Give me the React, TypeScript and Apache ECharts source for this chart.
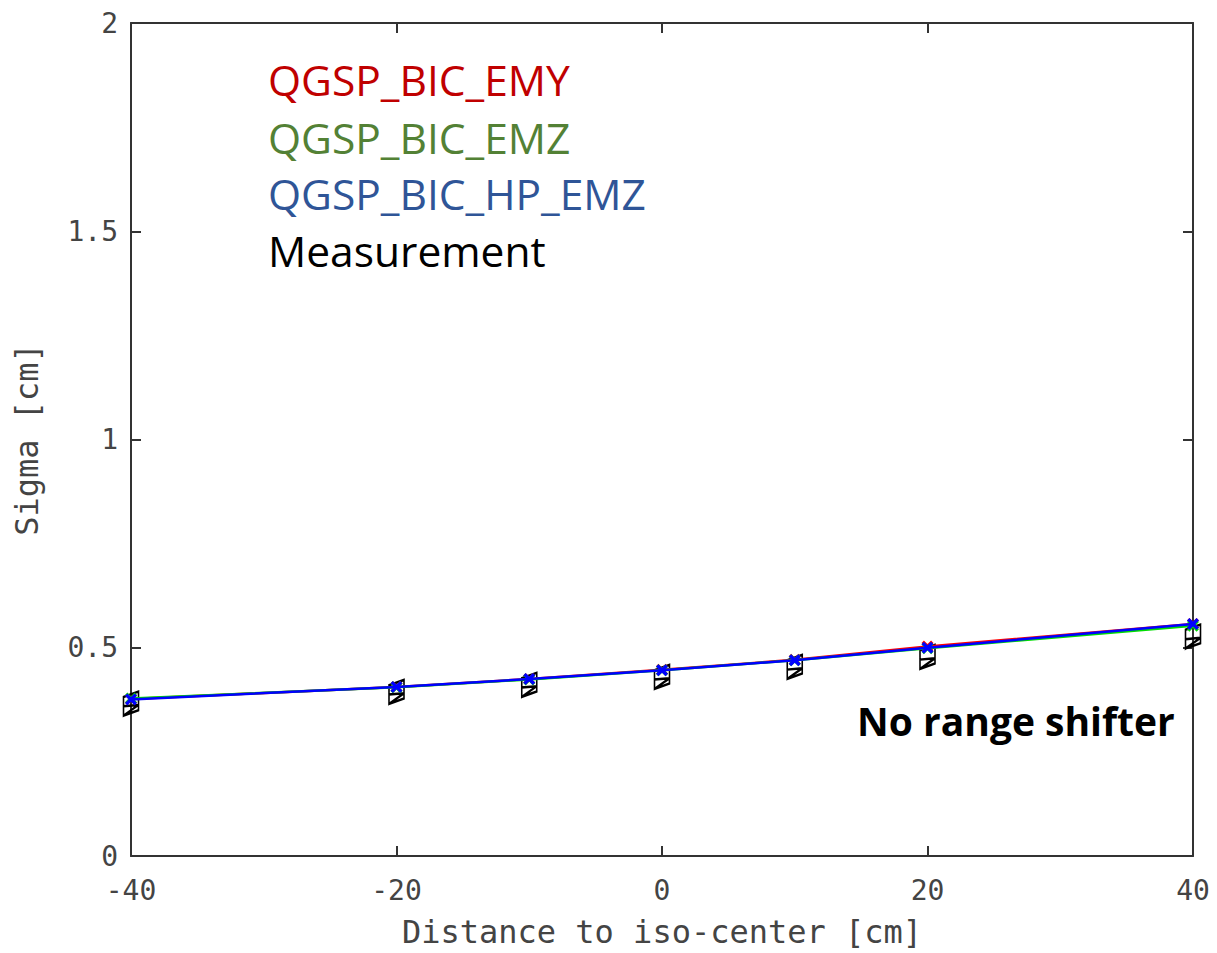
import React, { useEffect, useRef } from "react";
import * as echarts from "echarts";

const distances = [-40, -20, -10, 0, 10, 20, 40];
const sigmaEMY = [0.377, 0.406, 0.425, 0.447, 0.471, 0.503, 0.557];
const sigmaEMZ = [0.378, 0.405, 0.424, 0.446, 0.47, 0.499, 0.553];
const sigmaHPEMZ = [0.376, 0.406, 0.425, 0.446, 0.47, 0.5, 0.557];
const sigmaMeasured = [0.366, 0.394, 0.411, 0.43, 0.454, 0.478, 0.527];

const seriesNames = ["QGSP_BIC_EMY", "QGSP_BIC_EMZ", "QGSP_BIC_HP_EMZ", "Measurement"];
const labelColors = ["#c00000", "#538135", "#2f5597", "#000000"];
const lineColors = ["#ff0000", "#00dd00", "#0000ff"];

const X_SYMBOL = "path://M0,2L2,0L5,3L8,0L10,2L7,5L10,8L8,10L5,7L2,10L0,8L3,5Z";
const MEAS_SYMBOL = "path://M0,4L10,0L10,14L0,18Z M0,18L10,10L0,11Z";

const pairs = (ys: number[]) => distances.map((x, i) => [x, ys[i]]);

export default function App() {
  const ref = useRef<HTMLDivElement>(null);
  useEffect(() => {
    if (!ref.current) return;
    const chart = echarts.init(ref.current, undefined, { renderer: "svg" });
    const axisColor = "#333333";
    const mono = "DejaVu Sans Mono";
    const modelData = [sigmaEMY, sigmaEMZ, sigmaHPEMZ];
    const line = { show: true, onZero: false, lineStyle: { color: axisColor, width: 2 } };
    const tick = { show: true, inside: true, length: 10, lineStyle: { color: axisColor, width: 2 } };
    chart.setOption({
      animation: false,
      backgroundColor: "#ffffff",
      grid: { left: 131, right: 24, top: 23, bottom: 93, containLabel: false },
      xAxis: [
        {
          type: "value",
          position: "bottom",
          min: -40,
          max: 40,
          interval: 20,
          name: "Distance to iso-center [cm]",
          nameLocation: "middle",
          nameGap: 60,
          nameTextStyle: { fontFamily: mono, fontSize: 32, color: "#444" },
          axisLine: line,
          axisTick: tick,
          axisLabel: { fontFamily: mono, fontSize: 28, color: "#444", margin: 20 },
          splitLine: { show: false },
        },
        {
          type: "value",
          position: "top",
          min: -40,
          max: 40,
          interval: 20,
          axisLine: line,
          axisTick: tick,
          axisLabel: { show: false },
          splitLine: { show: false },
        },
      ],
      yAxis: [
        {
          type: "value",
          position: "left",
          min: 0,
          max: 2,
          interval: 0.5,
          name: "Sigma [cm]",
          nameLocation: "middle",
          nameRotate: 90,
          nameGap: 88,
          nameTextStyle: { fontFamily: mono, fontSize: 32, color: "#444" },
          axisLine: line,
          axisTick: tick,
          axisLabel: { fontFamily: mono, fontSize: 28, color: "#444", margin: 13 },
          splitLine: { show: false },
        },
        {
          type: "value",
          position: "right",
          min: 0,
          max: 2,
          interval: 0.5,
          axisLine: line,
          axisTick: tick,
          axisLabel: { show: false },
          splitLine: { show: false },
        },
      ],
      series: [
        ...modelData.map((d, i) => ({
          name: seriesNames[i],
          type: "line",
          data: pairs(d),
          symbol: X_SYMBOL,
          symbolSize: 12,
          showAllSymbol: true,
          lineStyle: { color: lineColors[i], width: 2.5 },
          itemStyle: { color: lineColors[i] },
          z: 3 + i,
        })),
        {
          name: seriesNames[3],
          type: "line",
          data: pairs(sigmaMeasured),
          lineStyle: { width: 0, opacity: 0 },
          symbol: MEAS_SYMBOL,
          symbolSize: [15, 24],
          itemStyle: { color: "transparent", borderColor: "#000", borderWidth: 2 },
          z: 2,
        },
      ],
      graphic: [
        ...seriesNames.map((n, i) => ({
          type: "text",
          left: 268,
          top: [82, 140, 196, 253][i] - 24,
          style: {
            text: n,
            fill: labelColors[i],
            font: "42.5px 'Open Sans'",
          },
        })),
        {
          type: "text",
          left: 857,
          top: 724 - 23,
          style: { text: "No range shifter", fill: "#000", font: "bold 39px 'Open Sans'" },
        },
      ],
    });
    return () => chart.dispose();
  }, []);
  return (
    <div
      ref={ref}
      style={{ position: "fixed", left: 0, top: 0, width: 1217, height: 953, background: "#fff" }}
    />
  );
}
